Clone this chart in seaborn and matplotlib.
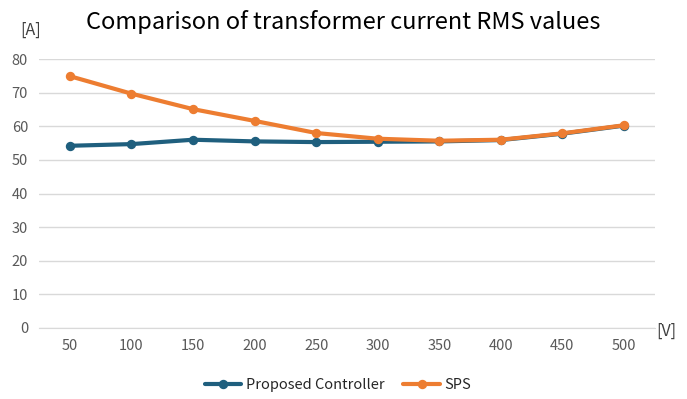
import numpy as np
import pandas as pd
import matplotlib
matplotlib.use('Agg')
import matplotlib.pyplot as plt
import seaborn as sns

voltage = [50, 100, 150, 200, 250, 300, 350, 400, 450, 500]
proposed = [54.2, 54.7, 56.0, 55.5, 55.3, 55.4, 55.5, 55.9, 57.8, 60.2]
sps = [74.9, 69.7, 65.1, 61.6, 58.0, 56.3, 55.7, 56.0, 57.9, 60.3]
series_names = ['Proposed Controller', 'SPS']
colors = ['#1f5f7e', '#ed7d31']

df = pd.DataFrame({
    'V': voltage * 2,
    'A': proposed + sps,
    'series': [series_names[0]] * len(voltage) + [series_names[1]] * len(voltage),
})

sns.set_style('white')
plt.rcParams['font.family'] = ['Noto Sans CJK KR', 'DejaVu Sans']

fig = plt.figure(figsize=(6.87, 3.99), dpi=100)
ax = fig.add_axes([0.057, 0.178, 0.896, 0.674])

sns.pointplot(data=df, x='V', y='A', hue='series', palette=colors,
              markers='o', linestyles='-', markersize=4.5, linewidth=3,
              ax=ax, errorbar=None)

ax.set_ylim(0, 80)
ax.set_yticks(range(0, 81, 10))
ax.grid(axis='y', color='#d9d9d9', linewidth=1)
ax.set_axisbelow(True)
for s in ['top', 'right', 'left']:
    ax.spines[s].set_visible(False)
ax.spines['bottom'].set_color('#d9d9d9')
ax.tick_params(axis='both', length=0, labelsize=10.5, colors='#595959', pad=8)
ax.set_xlabel('')
ax.set_ylabel('')

fig.text(0.5, 0.945, 'Comparison of transformer current RMS values',
         ha='center', va='center', fontsize=17, color='#000000')
fig.text(0.045, 0.925, '[A]', ha='center', va='center', fontsize=11.5, color='#404040')
fig.text(0.97, 0.17, '[V]', ha='center', va='center', fontsize=11.5, color='#404040')

handles, labels = ax.get_legend_handles_labels()
ax.legend(handles, labels, loc='center', bbox_to_anchor=(0.492, 0.035),
          bbox_transform=fig.transFigure, ncol=2, frameon=False,
          fontsize=10.5, handlelength=2.5, columnspacing=1.3, handletextpad=0.3)

fig.savefig('out.png', dpi=100)
